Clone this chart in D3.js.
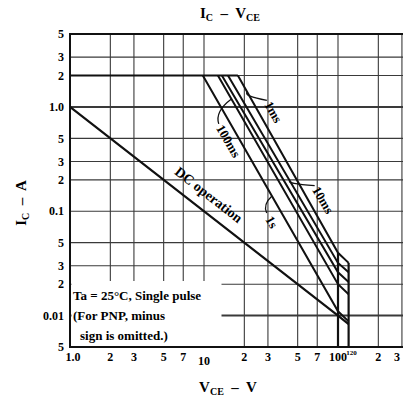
<!DOCTYPE html>
<html>
<head>
<meta charset="utf-8">
<script src="https://cdn.jsdelivr.net/npm/d3@7"></script>
<style>
  body { margin: 0; background: #fff; }
  svg { display: block; font-family: "Liberation Serif", "DejaVu Serif", serif; }
</style>
</head>
<body>
<div id="chart"></div>
<script>
// axis ticks (log scales)
var xTicks = [1, 2, 3, 5, 7, 10, 20, 30, 50, 70, 100, 200, 300];
var xTickLabels = ["1.0", "2", "3", "5", "7", "10", "2", "3", "5", "7", "100", "2", "3"];
var yTicks = [5, 3, 2, 1, 0.5, 0.3, 0.2, 0.1, 0.05, 0.03, 0.02, 0.01, 0.005];
var yTickLabels = ["5", "3", "2", "1.0", "5", "3", "2", "0.1", "5", "3", "2", "0.01", "5"];

// limits
var icPeak = 2;                 // A, pulse
var vceoLimits = [100, 120];    // V, two voltage grades
var dcV = [1, 100, 120];
var dcI = [1, 0.01, 0.0083];

// single pulse lines: V where they leave icPeak, IC at 100 V and at 120 V
var pulseNames = ["1s", "100ms", "", "10ms", "1ms"];
var pulseStartV = [9.8, 12.7, 13.6, 15.1, 17.9];
var pulseI100 = [0.011, 0.02, 0.026, 0.032, 0.04];
var pulseI120 = [0.0088, 0.016, 0.021, 0.026, 0.032];

var width = 403, height = 400;

var x = d3.scaleLog().domain([1, 330]).range([70, 70 + 134 * Math.log10(330)]);
var y = d3.scaleLog().domain([0.005, 5]).range([347, 34]);

var svg = d3.select("#chart").append("svg")
    .attr("width", width)
    .attr("height", height);

// grid
svg.selectAll(".vgrid")
    .data(xTicks.slice(1))
    .enter().append("line")
    .attr("x1", d => x(d)).attr("x2", d => x(d))
    .attr("y1", y(5)).attr("y2", y(0.005))
    .attr("stroke", "#3a3a3a")
    .attr("stroke-width", 1.1);

svg.selectAll(".hgrid")
    .data(yTicks)
    .enter().append("line")
    .attr("x1", x(1)).attr("x2", width)
    .attr("y1", d => y(d)).attr("y2", d => y(d))
    .attr("stroke", "#3a3a3a")
    .attr("stroke-width", d => (d === 1 || d === 0.01 || d === 5) ? 2 : 1.1);

// frame
svg.append("path")
    .attr("d", "M" + width + "," + y(5) + "H" + x(1) + "V" + y(0.005) + "H" + width)
    .attr("fill", "none")
    .attr("stroke", "#111")
    .attr("stroke-width", 2);

// tick labels
svg.selectAll(".ylab")
    .data(yTicks)
    .enter().append("text")
    .attr("x", 64)
    .attr("y", d => y(d))
    .attr("dy", "0.35em")
    .attr("text-anchor", "end")
    .attr("font-size", 12)
    .attr("font-weight", "bold")
    .text((d, i) => yTickLabels[i]);

svg.selectAll(".xlab")
    .data(xTicks)
    .enter().append("text")
    .attr("x", (d, i) => i === 0 ? x(d) + 3 : Math.min(x(d), 397))
    .attr("y", d => d === 10 ? 365 : 361)
    .attr("text-anchor", "middle")
    .attr("font-size", 12)
    .attr("font-weight", "bold")
    .text((d, i) => xTickLabels[i]);

svg.append("text")
    .attr("x", x(vceoLimits[1]) + 3)
    .attr("y", 355)
    .attr("text-anchor", "middle")
    .attr("font-size", 7)
    .attr("font-weight", "bold")
    .text("120");

// title and axis titles
var title = svg.append("text")
    .attr("x", 230).attr("y", 18)
    .attr("text-anchor", "middle")
    .attr("font-size", 15)
    .attr("font-weight", "bold")
    .attr("xml:space", "preserve");
title.append("tspan").text("I");
title.append("tspan").attr("font-size", 10).attr("dy", 3).text("C");
title.append("tspan").attr("dy", -3).text("  \u2013  V");
title.append("tspan").attr("font-size", 10).attr("dy", 3).text("CE");

var xt = svg.append("text")
    .attr("x", 228).attr("y", 392)
    .attr("text-anchor", "middle")
    .attr("font-size", 15)
    .attr("font-weight", "bold")
    .attr("xml:space", "preserve");
xt.append("tspan").text("V");
xt.append("tspan").attr("font-size", 10).attr("dy", 3).text("CE");
xt.append("tspan").attr("dy", -3).text("  \u2013  V");

var yt = svg.append("text")
    .attr("transform", "translate(26,203) rotate(-90)")
    .attr("text-anchor", "middle")
    .attr("font-size", 15)
    .attr("font-weight", "bold")
    .attr("xml:space", "preserve");
yt.append("tspan").text("I");
yt.append("tspan").attr("font-size", 10).attr("dy", 3).text("C");
yt.append("tspan").attr("dy", -3).text("  \u2013  A");

// note box
svg.append("rect")
    .attr("x", x(1) + 1.5).attr("y", 281)
    .attr("width", 150).attr("height", y(0.005) - 282)
    .attr("fill", "#fff");

var note = ["Ta = 25\u00b0C, Single pulse", "(For PNP, minus", "sign is omitted.)"];
svg.selectAll(".note")
    .data(note)
    .enter().append("text")
    .attr("x", (d, i) => i === 2 ? 80 : 73)
    .attr("y", (d, i) => 300 + i * 20)
    .attr("font-size", 13)
    .attr("font-weight", "bold")
    .text(d => d);

// SOA lines
var line = d3.line().x(d => x(d[0])).y(d => y(d[1]));
var ink = "#111";

// IC(peak) limit
svg.append("path")
    .attr("d", line([[1, icPeak], [d3.max(pulseStartV), icPeak]]))
    .attr("fill", "none").attr("stroke", ink).attr("stroke-width", 2.2);

// DC line
svg.append("path")
    .attr("d", line(dcV.map((v, i) => [v, dcI[i]])))
    .attr("fill", "none").attr("stroke", ink).attr("stroke-width", 2.2);

// pulse lines
var pulses = pulseStartV.map((v, i) => [[v, icPeak], [vceoLimits[0], pulseI100[i]], [vceoLimits[1], pulseI120[i]]]);
svg.selectAll(".pulse")
    .data(pulses)
    .enter().append("path")
    .attr("d", line)
    .attr("fill", "none").attr("stroke", ink).attr("stroke-width", 2);

// VCEO limits
var topI = d3.max(pulses, p => p[1][1]);
svg.selectAll(".vceo")
    .data(vceoLimits)
    .enter().append("line")
    .attr("x1", d => x(d)).attr("x2", d => x(d))
    .attr("y1", (d, i) => y(i === 0 ? topI : d3.max(pulseI120)))
    .attr("y2", y(0.005))
    .attr("stroke", ink).attr("stroke-width", 2.2);

// labels along lines
function px(i, yy) {
    var p0 = [x(pulseStartV[i]), y(icPeak)], p1 = [x(vceoLimits[0]), y(pulseI100[i])];
    return p0[0] + (yy - p0[1]) * (p1[0] - p0[0]) / (p1[1] - p0[1]);
}
function angle(i) {
    var dx = x(vceoLimits[0]) - x(pulseStartV[i]), dy = y(pulseI100[i]) - y(icPeak);
    return Math.atan2(dy, dx) * 180 / Math.PI;
}

var dcAng = Math.atan2(y(dcI[1]) - y(dcI[0]), x(dcV[1]) - x(dcV[0])) * 180 / Math.PI;
svg.append("text")
    .attr("transform", "translate(" + (x(9) + 8) + "," + (y(1 / 9) - 8) + ") rotate(" + dcAng + ")")
    .attr("text-anchor", "middle")
    .attr("font-size", 14)
    .attr("font-weight", "bold")
    .text("DC operation");

// [line index, label y, x offset from line, bracket start y on line, bracket line]
var tags = [
    [0, 222, -15, 196, 0],
    [1, 141, -27, 99, 1],
    [3, 200, 22, 181, 3],
    [4, 112, 15, 92, 4]
];
tags.forEach(function(t) {
    var cx = px(t[0], t[1]) + t[2];
    var a = angle(t[0]);
    var name = pulseNames[t[0]];
    var len = name.length * 6.3;
    svg.append("text")
        .attr("transform", "translate(" + cx + "," + t[1] + ") rotate(" + a + ")")
        .attr("text-anchor", "middle")
        .attr("dy", "0.35em")
        .attr("font-size", 13)
        .attr("font-weight", "bold")
        .text(name);
    // bracket from the label's upper end to the line
    var r = a * Math.PI / 180;
    var ex = cx - Math.cos(r) * (len / 2 + 4), ey = t[1] - Math.sin(r) * (len / 2 + 4);
    var sx = px(t[4], t[3]), sy = t[3];
    var mx = Math.min(sx, ex) - 4, my = (sy + ey) / 2;
    svg.append("path")
        .attr("d", "M" + ex + "," + ey + "Q" + mx + "," + my + " " + sx + "," + sy)
        .attr("fill", "none").attr("stroke", ink).attr("stroke-width", 1.3);
});
</script>
</body>
</html>
